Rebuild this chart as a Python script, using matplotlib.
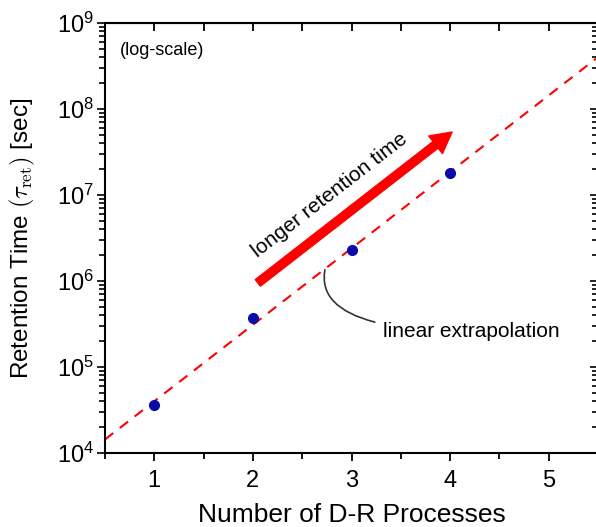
import matplotlib
matplotlib.use('Agg')
import matplotlib.pyplot as plt
import numpy as np
from matplotlib.ticker import LogLocator, MultipleLocator, NullFormatter

# Data
n_processes = [1, 2, 3, 4]
retention_sec = [3.6e4, 3.7e5, 2.3e6, 1.8e7]
x_ticks = [1, 2, 3, 4, 5]
fit_range = [0.5, 5.5]

plt.rcParams['font.family'] = ['Liberation Sans Narrow', 'Liberation Sans', 'DejaVu Sans']
plt.rcParams['mathtext.fontset'] = 'cm'

fig = plt.figure(figsize=(5.96, 5.27), dpi=100)
ax = fig.add_axes([105 / 596, 74 / 527, 493 / 596, 430 / 527])

# linear fit in log space, extrapolated
slope, intercept = np.polyfit(n_processes, np.log10(retention_sec), 1)
xs = np.array(fit_range)
ax.plot(xs, 10 ** (slope * xs + intercept), color='red', ls=(0, (5, 4)), lw=1.5, zorder=2)

ax.plot(n_processes, retention_sec, 'o', color='#0a0aa8', ms=7, zorder=3)

ax.set_yscale('log')
ax.set_xlim(0.5, 5.5)
ax.set_ylim(1e4, 1e9)
ax.set_xticks(x_ticks)
ax.xaxis.set_minor_locator(MultipleLocator(0.5))
ax.yaxis.set_major_locator(LogLocator(base=10, numticks=10))
ax.yaxis.set_minor_locator(LogLocator(base=10, subs=np.arange(2, 10), numticks=20))
ax.yaxis.set_minor_formatter(NullFormatter())

for s in ax.spines.values():
    s.set_linewidth(1.5)

ax.tick_params(axis='x', which='both', direction='out', top=False, labelsize=17, width=1.3)
ax.tick_params(axis='x', which='major', length=6, pad=6)
ax.tick_params(axis='x', which='minor', length=4)
ax.tick_params(axis='y', which='both', direction='out', right=False, labelsize=17, width=1.2)
ax.tick_params(axis='y', which='major', length=6, pad=2)
ax.tick_params(axis='y', which='minor', length=4)

# inward ticks on top and right
secx = ax.secondary_xaxis('top')
secx.set_xticks(x_ticks)
secx.xaxis.set_minor_locator(MultipleLocator(0.5))
secx.tick_params(which='both', direction='in', labeltop=False, width=1.3)
secx.tick_params(which='major', length=6)
secx.tick_params(which='minor', length=6)
secy = ax.secondary_yaxis('right')
secy.set_yscale('log')
secy.yaxis.set_major_locator(LogLocator(base=10, numticks=10))
secy.yaxis.set_minor_locator(LogLocator(base=10, subs=np.arange(2, 10), numticks=20))
secy.tick_params(which='both', direction='in', labelright=False, width=1.2)
secy.tick_params(which='major', length=6)
secy.tick_params(which='minor', length=4)

ax.set_xlabel('Number of D-R Processes', fontsize=19, labelpad=8)
ax.set_ylabel(r'Retention Time $(\tau_{\rm ret})$ [sec]', fontsize=17.5)
ax.yaxis.set_label_coords(-0.137, 0.5)

ax.text(0.03, 0.937, '(log-scale)', transform=ax.transAxes, fontsize=13, va='center')

ax.annotate('', xy=(4.02, 5.4e7), xytext=(2.05, 9.5e5),
            arrowprops=dict(arrowstyle='simple,head_length=0.75,head_width=0.8,tail_width=0.3',
                            color='red', mutation_scale=20, shrinkA=0, shrinkB=0))
ax.text(2.78, 1.0e7, 'longer retention time', rotation=37.7, rotation_mode='anchor',
        ha='center', va='center', fontsize=15)

ax.annotate('linear extrapolation', xy=(2.73, 1.35e6), xytext=(3.32, 2.6e5),
            fontsize=15, va='center', ha='left',
            arrowprops=dict(arrowstyle='-', color='#333333', lw=1.2, shrinkA=4, shrinkB=0,
                            connectionstyle='angle3,angleA=0,angleB=80'))

fig.savefig('out.png', dpi=100)
